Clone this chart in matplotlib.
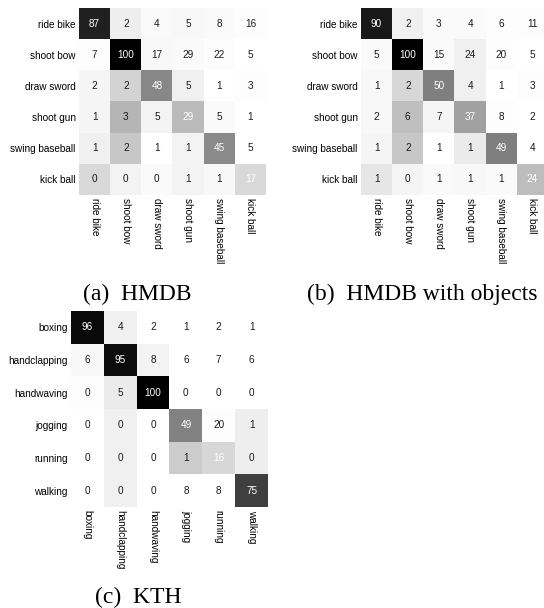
import numpy as np
import matplotlib.pyplot as plt

plt.rcParams['font.family'] = ['Liberation Sans', 'DejaVu Sans']

hmdb_classes = ["ride bike", "shoot bow", "draw sword", "shoot gun",
                "swing baseball", "kick ball"]
kth_classes = ["boxing", "handclapping", "handwaving", "jogging",
               "running", "walking"]

# printed scores
hmdb_vals = [[87, 2, 4, 5, 8, 16],
             [7, 100, 17, 29, 22, 5],
             [2, 2, 48, 5, 1, 3],
             [1, 3, 5, 29, 5, 1],
             [1, 2, 1, 1, 45, 5],
             [0, 0, 0, 1, 1, 17]]
hmdb_obj_vals = [[90, 2, 3, 4, 6, 11],
                 [5, 100, 15, 24, 20, 5],
                 [1, 2, 50, 4, 1, 3],
                 [2, 6, 7, 37, 8, 2],
                 [1, 2, 1, 1, 49, 4],
                 [1, 0, 1, 1, 1, 24]]
kth_vals = [[96, 4, 2, 1, 2, 1],
            [6, 95, 8, 6, 7, 6],
            [0, 5, 100, 0, 0, 0],
            [0, 0, 0, 49, 20, 1],
            [0, 0, 0, 1, 16, 0],
            [0, 0, 0, 8, 8, 75]]

# cell shading (normalised confusion)
hmdb_shade = [[0.87, 0.07, 0.02, 0.03, 0.02, 0.01],
              [0.01, 1.00, 0.03, 0.02, 0.01, 0.00],
              [0.04, 0.17, 0.47, 0.06, 0.00, 0.01],
              [0.04, 0.29, 0.05, 0.27, 0.02, 0.00],
              [0.06, 0.22, 0.00, 0.05, 0.46, 0.00],
              [0.15, 0.05, 0.02, 0.05, 0.03, 0.15]]
hmdb_obj_shade = [[0.90, 0.06, 0.02, 0.02, 0.01, 0.01],
                  [0.02, 1.00, 0.02, 0.06, 0.01, 0.00],
                  [0.03, 0.16, 0.50, 0.06, 0.00, 0.01],
                  [0.03, 0.25, 0.04, 0.37, 0.01, 0.00],
                  [0.04, 0.22, 0.00, 0.08, 0.50, 0.00],
                  [0.10, 0.04, 0.02, 0.03, 0.02, 0.26]]
kth_shade = [[0.96, 0.06, 0.00, 0.00, 0.00, 0.00],
             [0.03, 0.95, 0.05, 0.00, 0.00, 0.00],
             [0.01, 0.08, 1.00, 0.00, 0.00, 0.00],
             [0.00, 0.06, 0.00, 0.49, 0.01, 0.07],
             [0.00, 0.06, 0.00, 0.20, 0.16, 0.07],
             [0.00, 0.06, 0.00, 0.00, 0.00, 0.75]]

W, H = 544, 608


def px_axes(fig, left, top, w, h):
    return fig.add_axes([left / W, (H - top - h) / H, w / W, h / H])


def draw_cm(ax, shade, vals, labels):
    ax.imshow(np.array(shade), cmap="gray_r", vmin=0, vmax=1,
              interpolation="nearest", aspect="auto")
    n = len(labels)
    for i in range(n):
        for j in range(n):
            ax.text(j, i, str(vals[i][j]), ha="center", va="center",
                    fontsize=7.2, color="white" if i == j else "#1a1a1a")
    ax.set_xticks(range(n))
    ax.set_yticks(range(n))
    ax.set_xticklabels(labels, rotation=-90, fontsize=7.2)
    ax.set_yticklabels(labels, fontsize=7.2)
    ax.tick_params(length=0, pad=2.5)
    for s in ax.spines.values():
        s.set_visible(False)


fig = plt.figure(figsize=(W / 100, H / 100), dpi=100)

ax1 = px_axes(fig, 79, 8, 187, 187)
draw_cm(ax1, hmdb_shade, hmdb_vals, hmdb_classes)
ax2 = px_axes(fig, 361, 8, 187, 187)
draw_cm(ax2, hmdb_obj_shade, hmdb_obj_vals, hmdb_classes)
ax3 = px_axes(fig, 71, 311, 197, 196)
draw_cm(ax3, kth_shade, kth_vals, kth_classes)

cap = dict(ha="center", va="baseline", fontsize=17, family="Liberation Serif")
fig.text(137 / W, 1 - 300 / H, "(a)  HMDB", **cap)
fig.text(422 / W, 1 - 300 / H, "(b)  HMDB with objects", **cap)
fig.text(138 / W, 1 - 603 / H, "(c)  KTH", **cap)

fig.savefig("out.png", dpi=100)
